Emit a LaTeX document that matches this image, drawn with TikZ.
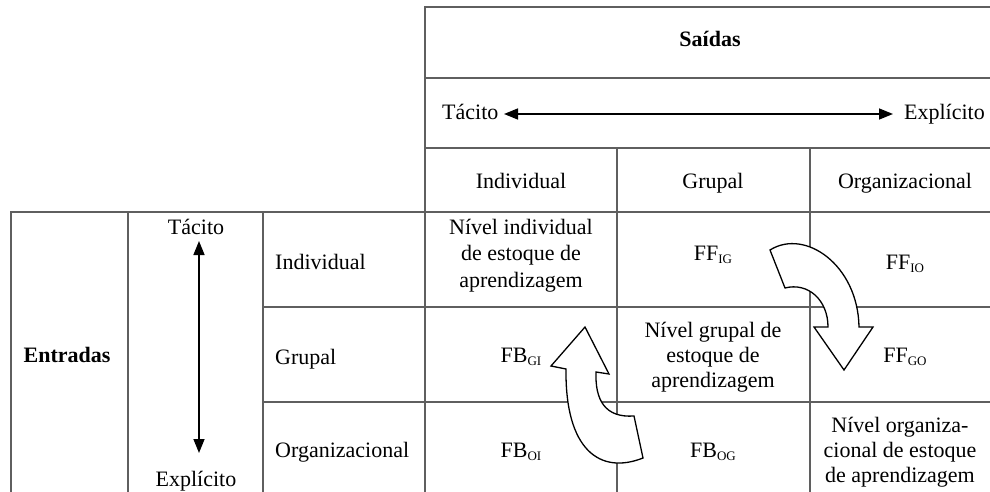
\documentclass[tikz,border=0pt]{standalone}
\usepackage{fontspec}
\setmainfont{Liberation Serif}
\usetikzlibrary{arrows.meta}
\definecolor{gridgray}{RGB}{95,95,95}
% lowered, smaller capitals used as flow indices
\newcommand{\lsub}[1]{\raisebox{-3pt}{\fontsize{13}{13}\selectfont #1}}
\begin{document}
\begin{tikzpicture}[x=1pt,y=-1pt,
  rule/.style={draw=gridgray,line width=1.3pt,line cap=rect},
  txt/.style={inner sep=0pt,anchor=base,font=\fontsize{22}{26}\selectfont},
  boldtxt/.style={txt,font=\fontsize{22}{26}\selectfont\bfseries},
  blockarrow/.style={draw=black,line width=1.3pt,fill=white,line join=miter},
  axis/.style={line width=1.5pt,{Triangle[length=14pt,width=11pt]}-{Triangle[length=14pt,width=11pt]}}]
\useasboundingbox (0,0) rectangle (990,492);

% table rules
\draw[rule] (425,7) -- (990,7);
\draw[rule] (425,78) -- (990,78);
\draw[rule] (425,148) -- (990,148);
\draw[rule] (11,212) -- (990,212);
\draw[rule] (263,307) -- (990,307);
\draw[rule] (263,402) -- (990,402);
\draw[rule] (425,7) -- (425,492);
\draw[rule] (617,148) -- (617,492);
\draw[rule] (810,148) -- (810,492);
\draw[rule] (11,212) -- (11,492);
\draw[rule] (128,212) -- (128,492);
\draw[rule] (263,212) -- (263,492);

% output header
\node[boldtxt] (saidas) at (710,47) {Saídas};
\node[txt,anchor=base west] (htac) at (442,120) {Tácito};
\node[txt,anchor=base east] (hexp) at (985,120) {Explícito};
\coordinate (hl) at (504,114);
\coordinate (hr) at (893,114);
\draw[axis] (hl) -- (hr);
\node[txt] (cind) at (521,188) {Individual};
\node[txt] (cgru) at (713,188) {Grupal};
\node[txt] (corg) at (905,188) {Organizacional};

% input side
\node[boldtxt] (entradas) at (67,362) {Entradas};
\node[txt] (vtac) at (196,234) {Tácito};
\node[txt] (vexp) at (196,486) {Explícito};
\coordinate (vtop) at (199,241);
\coordinate (vbot) at (199,453);
\draw[axis] (vtop) -- (vbot);
\node[txt,anchor=base west] (rind) at (275,269) {Individual};
\node[txt,anchor=base west] (rgru) at (275,364) {Grupal};
\node[txt,anchor=base west] (rorg) at (275,457) {Organizacional};

% cells
\node[txt,font=\fontsize{22}{26.5}\selectfont] (nind) at (521,234)
  {\begin{tabular}[t]{@{}c@{}}Nível individual\\de estoque de\\aprendizagem\end{tabular}};
\node[txt] (ffig) at (713,260) {FF\lsub{IG}};
\node[txt] (ffio) at (905,269) {FF\lsub{IO}};
\node[txt] (fbgi) at (521,362) {FB\lsub{GI}};
\node[txt,font=\fontsize{22}{25}\selectfont] (ngru) at (713,337)
  {\begin{tabular}[t]{@{}c@{}}Nível grupal de\\estoque de\\aprendizagem\end{tabular}};
\node[txt] (ffgo) at (905,362) {FF\lsub{GO}};
\node[txt] (fboi) at (521,457) {FB\lsub{OI}};
\node[txt] (fbog) at (713,457) {FB\lsub{OG}};
\node[txt,font=\fontsize{22}{25}\selectfont] (norg) at (900,432)
  {\begin{tabular}[t]{@{}c@{}}Nível organiza-\\cional de estoque\\de aprendizagem\end{tabular}};

% feed-forward curved arrow
\draw[blockarrow] (770,250) .. controls (805,228) and (858,265) .. (859,327)
  -- (873,327) -- (844,370) -- (814,327) -- (828,327)
  .. controls (828,300) and (808,282) .. (785,288) -- cycle;
% feedback curved arrow
\draw[blockarrow] (585,327) -- (609,374) -- (596,372)
  .. controls (595,400) and (605,418) .. (634,416) -- (643,458)
  .. controls (600,475) and (565,450) .. (566,369) -- (551,366) -- cycle;
\end{tikzpicture}
\end{document}
